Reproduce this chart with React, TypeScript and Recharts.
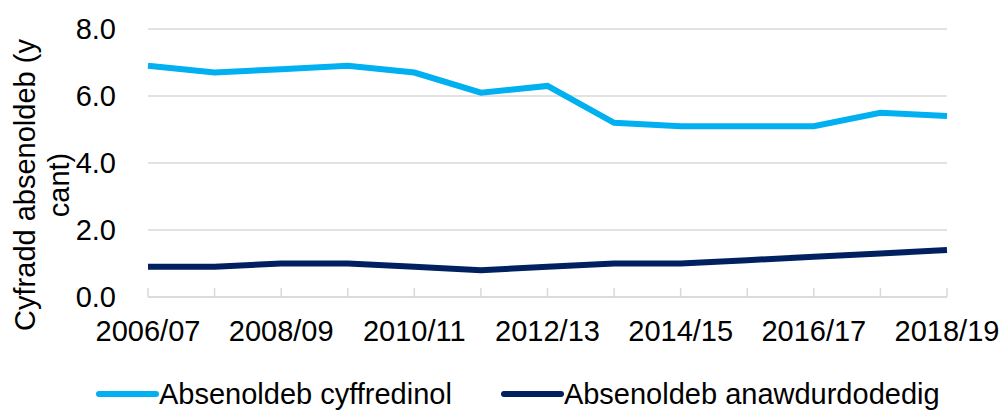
import React from 'react';
import { LineChart, Line, XAxis, YAxis, CartesianGrid, Legend } from 'recharts';

const years = [
  '2006/07', '2007/08', '2008/09', '2009/10', '2010/11', '2011/12', '2012/13',
  '2013/14', '2014/15', '2015/16', '2016/17', '2017/18', '2018/19',
];
const overallAbsence = [6.9, 6.7, 6.8, 6.9, 6.7, 6.1, 6.3, 5.2, 5.1, 5.1, 5.1, 5.5, 5.4];
const unauthorisedAbsence = [0.9, 0.9, 1.0, 1.0, 0.9, 0.8, 0.9, 1.0, 1.0, 1.1, 1.2, 1.3, 1.4];
const yTicks = [0, 2, 4, 6, 8];

const seriesNames = ['Absenoldeb cyffredinol', 'Absenoldeb anawdurdodedig'];
const seriesColors = ['#00B0F0', '#002060'];

const data = years.map((year, i) => ({
  year,
  overall: overallAbsence[i],
  unauthorised: unauthorisedAbsence[i],
}));

const FONT = '"Liberation Sans", Arial, sans-serif';

const XTick = (props: any) => {
  const { x, y, payload, index } = props;
  return (
    <g>
      <line x1={x} x2={x} y1={y - 9} y2={y} stroke="#d9d9d9" strokeWidth={1.5} />
      {index % 2 === 0 && (
        <text x={x} y={y + 23} dy="0.71em" textAnchor="middle" fill="#000" fontSize={29} fontFamily={FONT}>
          {payload.value}
        </text>
      )}
    </g>
  );
};

const LegendContent = () => (
  <div style={{ display: 'flex', alignItems: 'center', paddingLeft: 96, height: 36, fontFamily: FONT, fontSize: 29, color: '#000', whiteSpace: 'nowrap' }}>
    {seriesNames.map((name, i) => (
      <div key={name} style={{ display: 'flex', alignItems: 'center', marginRight: 49, flexShrink: 0 }}>
        <svg width={63} height={10}>
          <line x1={3} x2={60} y1={5} y2={5} stroke={seriesColors[i]} strokeWidth={6} strokeLinecap="round" />
        </svg>
        <span style={{ lineHeight: '36px' }}>{name}</span>
      </div>
    ))}
  </div>
);

const YLabel = () => (
  <g>
    <text transform="translate(25,185) rotate(-90)" textAnchor="middle" dy="0.355em" fill="#000" fontSize={29} fontFamily={FONT}>
      Cyfradd absenoldeb (y
    </text>
    <text transform="translate(59,185) rotate(-90)" textAnchor="middle" dy="0.355em" fill="#000" fontSize={29} fontFamily={FONT}>
      cant)
    </text>
  </g>
);

export default function App() {
  return (
    <div style={{ position: 'absolute', left: 0, top: 0, width: 1000, height: 412, background: '#fff' }}>
      <LineChart width={1000} height={412} data={data} margin={{ top: 29, right: 53, left: 0, bottom: 0 }}>
        <CartesianGrid vertical={false} stroke="#d9d9d9" strokeWidth={1.5} />
        <XAxis
          dataKey="year"
          interval={0}
          height={79}
          tickSize={0}
          tickMargin={0}
          tickLine={false}
          axisLine={{ stroke: '#d9d9d9', strokeWidth: 1.5 }}
          tick={<XTick />}
        />
        <YAxis
          width={148}
          domain={[0, 8]}
          ticks={yTicks}
          tickFormatter={(v: number) => v.toFixed(1)}
          axisLine={false}
          tickLine={false}
          tickMargin={26}
          tick={{ fill: '#000', fontSize: 29, fontFamily: FONT }}
        />
        <Legend verticalAlign="bottom" content={<LegendContent />} wrapperStyle={{ left: 0, width: 1000 }} />
        <Line dataKey="overall" name={seriesNames[0]} stroke={seriesColors[0]} strokeWidth={6} dot={false} activeDot={false} isAnimationActive={false} />
        <Line dataKey="unauthorised" name={seriesNames[1]} stroke={seriesColors[1]} strokeWidth={6} dot={false} activeDot={false} isAnimationActive={false} />
      </LineChart>
      <svg width={1000} height={412} style={{ position: 'absolute', left: 0, top: 0, pointerEvents: 'none' }}>
        <YLabel />
      </svg>
    </div>
  );
}
